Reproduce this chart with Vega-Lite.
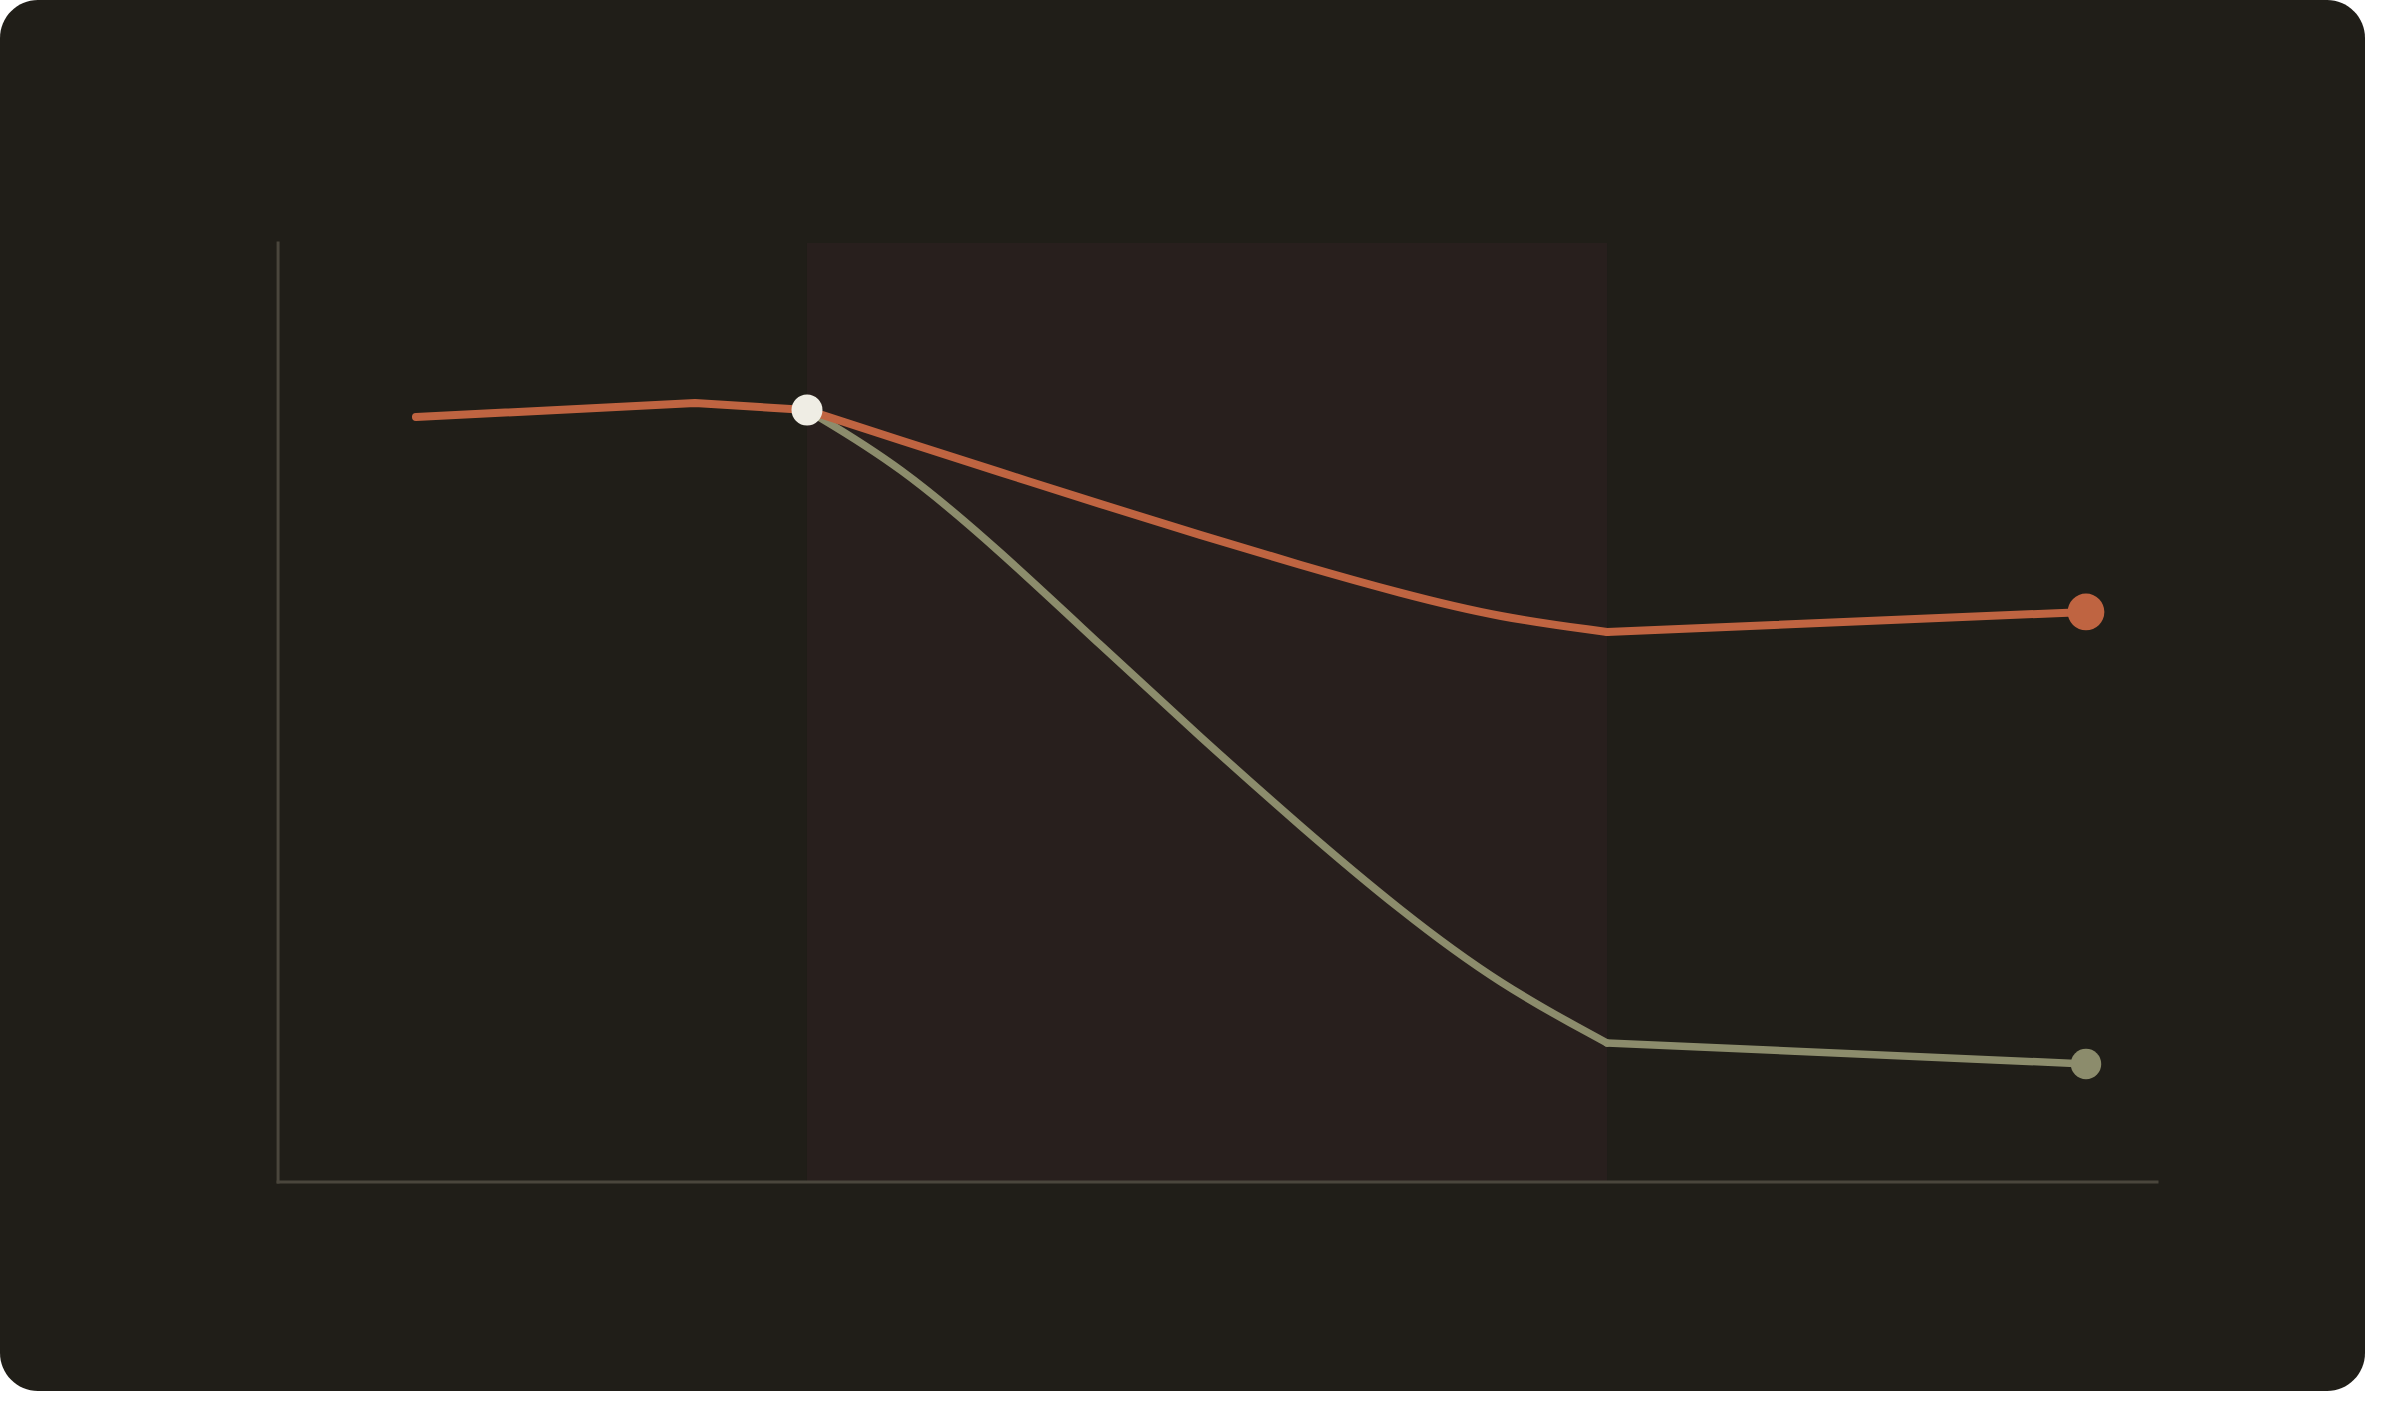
{
  "$schema": "https://vega.github.io/schema/vega-lite/v6.json",
  "width": 2365,
  "height": 1391,
  "autosize": {"type": "none"},
  "padding": {"left": 0, "top": 0, "right": 35, "bottom": 35},
  "background": "#ffffff",
  "config": {"view": {"fill": "#201e18", "stroke": null, "cornerRadius": 38}},
  "datasets": {
    "shade": [{"x": 28.15, "x2": 70.73, "y": 0, "y2": 100}],
    "axes": [
      {"x": 0, "x2": 0, "y": 0, "y2": 100},
      {"x": 0, "x2": 100, "y": 0, "y2": 0}
    ],
    "series": [
      {"series": "upper", "seg": "pre", "x": 7.34, "y": 81.47},
      {"series": "upper", "seg": "pre", "x": 22.19, "y": 82.96},
      {"series": "upper", "seg": "pre", "x": 28.15, "y": 82.22},
      {"series": "upper", "seg": "mid", "x": 28.15, "y": 82.22},
      {"series": "upper", "seg": "mid", "x": 33.10, "y": 79.0},
      {"series": "upper", "seg": "mid", "x": 38.42, "y": 75.6},
      {"series": "upper", "seg": "mid", "x": 43.75, "y": 72.2},
      {"series": "upper", "seg": "mid", "x": 49.07, "y": 68.9},
      {"series": "upper", "seg": "mid", "x": 54.39, "y": 65.7},
      {"series": "upper", "seg": "mid", "x": 59.71, "y": 62.7},
      {"series": "upper", "seg": "mid", "x": 65.03, "y": 60.1},
      {"series": "upper", "seg": "mid", "x": 70.73, "y": 58.58},
      {"series": "upper", "seg": "post", "x": 70.73, "y": 58.58},
      {"series": "upper", "seg": "post", "x": 96.22, "y": 60.71},
      {"series": "lower", "seg": "mid", "x": 28.15, "y": 82.22},
      {"series": "lower", "seg": "mid", "x": 33.10, "y": 76.3},
      {"series": "lower", "seg": "mid", "x": 38.42, "y": 67.2},
      {"series": "lower", "seg": "mid", "x": 43.75, "y": 57.2},
      {"series": "lower", "seg": "mid", "x": 49.07, "y": 47.4},
      {"series": "lower", "seg": "mid", "x": 54.39, "y": 37.9},
      {"series": "lower", "seg": "mid", "x": 59.71, "y": 28.9},
      {"series": "lower", "seg": "mid", "x": 65.03, "y": 21.0},
      {"series": "lower", "seg": "mid", "x": 70.73, "y": 14.80},
      {"series": "lower", "seg": "post", "x": 70.73, "y": 14.80},
      {"series": "lower", "seg": "post", "x": 96.22, "y": 12.57}
    ],
    "ends": [
      {"series": "upper", "x": 96.22, "y": 60.71},
      {"series": "lower", "x": 96.22, "y": 12.57}
    ],
    "split": [{"x": 28.15, "y": 82.22}]
  },
  "layer": [
    {
      "data": {"name": "shade"},
      "mark": {"type": "rect", "color": "#281f1d"},
      "encoding": {
        "x": {"field": "x", "type": "quantitative", "scale": {"domain": [-14.8, 111.07], "nice": false, "zero": false}, "axis": null},
        "x2": {"field": "x2"},
        "y": {"field": "y", "type": "quantitative", "scale": {"domain": [-22.26, 125.88], "nice": false, "zero": false}, "axis": null},
        "y2": {"field": "y2"}
      }
    },
    {
      "data": {"name": "axes"},
      "mark": {"type": "rule", "color": "#4a463c", "strokeWidth": 3, "strokeCap": "square"},
      "encoding": {
        "x": {"field": "x", "type": "quantitative"},
        "x2": {"field": "x2"},
        "y": {"field": "y", "type": "quantitative"},
        "y2": {"field": "y2"}
      }
    },
    {
      "data": {"name": "series"},
      "transform": [{"filter": "datum.series === 'lower' && datum.seg === 'mid'"}],
      "mark": {"type": "line", "color": "#8c8c6c", "strokeWidth": 7.5, "strokeCap": "round", "strokeJoin": "round", "interpolate": "basis"},
      "encoding": {
        "x": {"field": "x", "type": "quantitative"},
        "y": {"field": "y", "type": "quantitative"}
      }
    },
    {
      "data": {"name": "series"},
      "transform": [{"filter": "datum.series === 'lower' && datum.seg !== 'mid'"}],
      "mark": {"type": "line", "color": "#8c8c6c", "strokeWidth": 7.5, "strokeCap": "round", "strokeJoin": "round"},
      "encoding": {
        "x": {"field": "x", "type": "quantitative"},
        "y": {"field": "y", "type": "quantitative"},
        "detail": {"field": "seg", "type": "nominal"}
      }
    },
    {
      "data": {"name": "series"},
      "transform": [{"filter": "datum.series === 'upper' && datum.seg === 'mid'"}],
      "mark": {"type": "line", "color": "#bf6441", "strokeWidth": 8, "strokeCap": "round", "strokeJoin": "round", "interpolate": "basis"},
      "encoding": {
        "x": {"field": "x", "type": "quantitative"},
        "y": {"field": "y", "type": "quantitative"}
      }
    },
    {
      "data": {"name": "series"},
      "transform": [{"filter": "datum.series === 'upper' && datum.seg !== 'mid'"}],
      "mark": {"type": "line", "color": "#bf6441", "strokeWidth": 8, "strokeCap": "round", "strokeJoin": "round"},
      "encoding": {
        "x": {"field": "x", "type": "quantitative"},
        "y": {"field": "y", "type": "quantitative"},
        "detail": {"field": "seg", "type": "nominal"}
      }
    },
    {
      "data": {"name": "ends"},
      "mark": {"type": "circle", "opacity": 1},
      "encoding": {
        "x": {"field": "x", "type": "quantitative"},
        "y": {"field": "y", "type": "quantitative"},
        "color": {"field": "series", "type": "nominal", "scale": {"domain": ["upper", "lower"], "range": ["#bf6441", "#8c8c6c"]}, "legend": null},
        "size": {"field": "series", "type": "nominal", "scale": {"domain": ["upper", "lower"], "range": [1350, 930]}, "legend": null}
      }
    },
    {
      "data": {"name": "split"},
      "mark": {"type": "circle", "color": "#efede4", "opacity": 1, "size": 960},
      "encoding": {
        "x": {"field": "x", "type": "quantitative"},
        "y": {"field": "y", "type": "quantitative"}
      }
    }
  ]
}
